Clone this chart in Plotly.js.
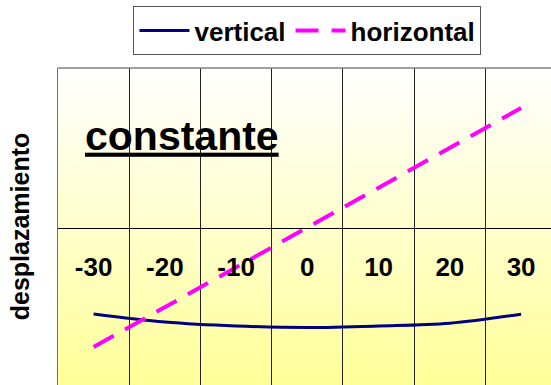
<!DOCTYPE html>
<html><head><meta charset="utf-8">
<script src="https://cdn.plot.ly/plotly-3.0.1.min.js"></script>
<style>
html,body{margin:0;padding:0;background:#fff;}
#chart{width:551px;height:385px;
background: linear-gradient(to bottom,#ffffff,#ffff99) no-repeat 58px 68px / 493px 317px, #ffffff;}
</style></head><body><div id="chart"></div>
<script>
// category positions and tick labels
const categories = [-30, -20, -10, 0, 10, 20, 30];
const tickLabels = ['-30', '-20', '-10', '0', '10', '20', '30'];
// gridlines sit between categories
const gridPositions = [-25, -15, -5, 5, 15, 25];
// series values (arbitrary units)
const verticalValues = [-0.86, -0.94, -0.98, -0.995, -0.98, -0.952, -0.862];
const horizontalValues = [-1.19, -0.79, -0.39, 0.0, 0.40, 0.80, 1.20];

const FONT = 'Arial, "Liberation Sans", sans-serif';

const traces = [
  {x: categories, y: verticalValues, name: 'vertical', type: 'scatter', mode: 'lines',
   line: {color: '#000080', width: 3, shape: 'spline', smoothing: 1}},
  {x: categories, y: horizontalValues, name: 'horizontal', type: 'scatter', mode: 'lines',
   line: {color: '#ff00ff', width: 4, dash: '23px,13px'}}
];

const layout = {
  width: 551, height: 385,
  margin: {l: 58, r: 0, t: 68, b: 0},
  paper_bgcolor: 'rgba(0,0,0,0)', plot_bgcolor: 'rgba(0,0,0,0)',
  font: {family: FONT, color: '#000'},
  showlegend: true,
  title: {text: '<u>constante</u>', font: {family: FONT, size: 41, weight: 'bold', color: '#000'},
          x: 85/551, xanchor: 'left', xref: 'container', y: 1 - 121/385, yanchor: 'top', yref: 'container'},
  legend: {orientation: 'h', x: 0.506, xanchor: 'center', y: 1.195, yanchor: 'top',
           bgcolor: '#ffffff', bordercolor: '#555555', borderwidth: 1,
           font: {family: FONT, size: 26, weight: 'bold', color: '#000'}, itemwidth: 50},
  xaxis: {
    range: [-35, 34.2], anchor: 'free', position: 157/317,
    tickmode: 'array', tickvals: categories, ticktext: tickLabels,
    showgrid: false, zeroline: false, showline: true, linecolor: '#000', linewidth: 1,
    ticks: '', ticklabelstandoff: 16,
    tickfont: {family: FONT, size: 26, weight: 'bold', color: '#000'},
    minor: {tickmode: 'array', tickvals: gridPositions, showgrid: true, gridcolor: '#222222', gridwidth: 1,
            ticks: 'outside', ticklen: 6, tickcolor: '#222222'},
    fixedrange: true
  },
  yaxis: {
    range: [-1.57, 1.60], showgrid: false, zeroline: false, showticklabels: false, ticks: '',
    showline: true, linecolor: '#808000', linewidth: 1.5, automargin: false,
    title: {text: 'desplazamiento', standoff: 20, font: {family: FONT, size: 25, weight: 'bold', color: '#000'}},
    fixedrange: true
  },
  shapes: [{type: 'line', xref: 'paper', yref: 'paper', x0: 0, x1: 1, y0: 1, y1: 1,
            line: {color: '#808080', width: 1.5}}]
};

Plotly.newPlot('chart', traces, layout, {displayModeBar: false, staticPlot: true});
</script></body></html>
